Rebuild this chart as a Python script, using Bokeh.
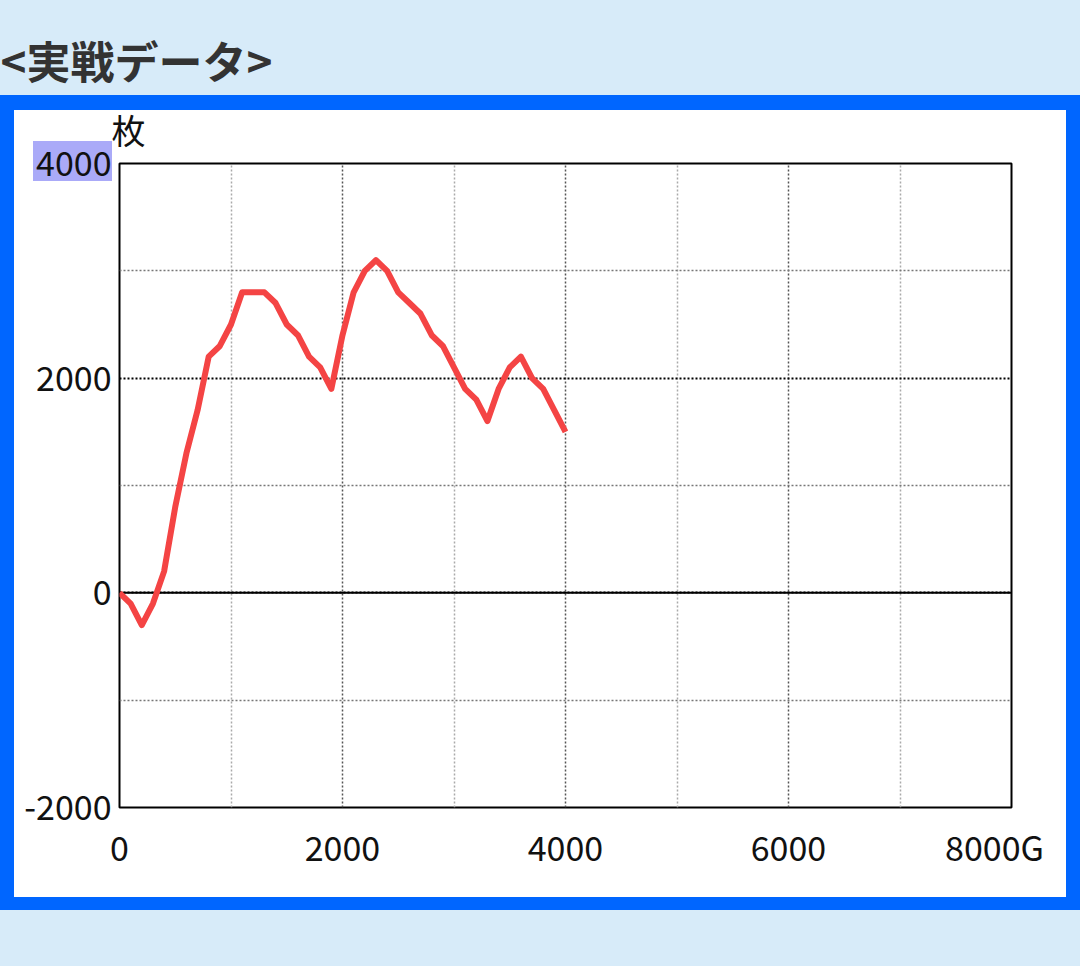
from bokeh.plotting import figure
from bokeh.models import Range1d, FixedTicker, Span, LinearAxis
from bokeh.embed import file_html
from bokeh.resources import INLINE

# ---- data ----
games = [0, 100, 200, 300, 400, 500, 600, 700, 800, 900,
         1000, 1100, 1200, 1300, 1400, 1500, 1600, 1700, 1800, 1900,
         2000, 2100, 2200, 2300, 2400, 2500, 2600, 2700, 2800, 2900,
         3000, 3100, 3200, 3300, 3400, 3500, 3600, 3700, 3800, 3900, 4000]
coins = [0, -100, -300, -100, 200, 800, 1300, 1700, 2200, 2300,
         2500, 2800, 2800, 2800, 2700, 2500, 2400, 2200, 2100, 1900,
         2400, 2800, 3000, 3100, 3000, 2800, 2700, 2600, 2400, 2300,
         2100, 1900, 1800, 1600, 1900, 2100, 2200, 2000, 1900, 1700, 1500]

x_ticks = [0, 2000, 4000, 6000, 8000]
x_minor = [1000, 3000, 5000, 7000]
y_ticks = [-2000, 0, 2000, 4000]
y_minor = [-1000, 1000, 3000]
# last label is shifted left by a trailing ideographic space
x_tick_labels = {0: "0", 2000: "2000", 4000: "4000", 6000: "6000", 8000: "8000G\u3000"}
y_tick_labels = {-2000: "-2000", 0: "0", 2000: "2000", 4000: "4000"}
unit_tick = [80]
unit_labels = {80: "枚"}
title_text = "<実戦データ>"

FONT = "Noto Sans CJK JP"
LIGHT_BLUE = "#d7ebf9"
BLUE = "#0066ff"
LAVENDER = "#aaaaf8"

W, H = 1080, 966
FL, FT, FW, FH = 119, 163, 892, 644

p = figure(frame_width=FW, frame_height=FH,
           min_border_left=FL, min_border_right=W - FL - FW,
           min_border_top=FT, min_border_bottom=H - FT - FH,
           x_range=Range1d(0, 8000), y_range=Range1d(-2000, 4000),
           output_backend="svg", toolbar_location=None,
           background_fill_color="white", border_fill_color=None,
           outline_line_color="black", outline_line_width=2)

# page decoration behind the (transparent) border area
p.styles = {
    "background": (
        f"linear-gradient({LAVENDER},{LAVENDER}) 33px 141px / 79px 40px no-repeat, "
        "linear-gradient(#ffffff,#ffffff) 14px 110px / 1052px 787px no-repeat, "
        f"linear-gradient({BLUE},{BLUE}) 0px 95px / 1080px 815px no-repeat, "
        f"{LIGHT_BLUE}"
    )
}

# axes
xax = p.xaxis[0]
yax = p.yaxis[0]
xax.ticker = FixedTicker(ticks=x_ticks, minor_ticks=x_minor)
yax.ticker = FixedTicker(ticks=y_ticks, minor_ticks=y_minor)
xax.major_label_overrides = x_tick_labels
yax.major_label_overrides = y_tick_labels

unit_axis = LinearAxis(ticker=FixedTicker(ticks=unit_tick),
                       major_label_overrides=unit_labels)
p.add_layout(unit_axis, "above")

for ax in (xax, yax, unit_axis):
    ax.axis_line_color = None
    ax.major_tick_line_color = None
    ax.minor_tick_line_color = None
    ax.major_label_text_font = FONT
    ax.major_label_text_font_size = "34px"
    ax.major_label_text_color = "#111111"
yax.major_label_standoff = 2
xax.major_label_standoff = 8
unit_axis.major_label_standoff = 4

# title
p.title.text = title_text
p.title.align = "left"
p.title.offset = -FL
p.title.text_font = FONT
p.title.text_font_size = "44px"
p.title.text_font_style = "bold"
p.title.text_color = "#333333"
p.title.standoff = 20

# grids
p.xgrid.grid_line_color = "#555555"
p.xgrid.grid_line_dash = "2 2"
p.xgrid.grid_line_width = 1.5
p.xgrid.minor_grid_line_color = "#aaaaaa"
p.xgrid.minor_grid_line_dash = "2 2"
p.xgrid.minor_grid_line_width = 1.5
p.ygrid.grid_line_color = "#000000"
p.ygrid.grid_line_dash = "2 2"
p.ygrid.grid_line_width = 2
p.ygrid.minor_grid_line_color = "#777777"
p.ygrid.minor_grid_line_dash = "2 2"
p.ygrid.minor_grid_line_width = 1.5

p.add_layout(Span(location=0, dimension="width", line_color="black",
                  line_width=2, level="underlay"))

# data line
p.line(games, coins, line_color="#f44444", line_width=6, line_join="round")

open("out.html", "w").write(file_html(p, INLINE))
